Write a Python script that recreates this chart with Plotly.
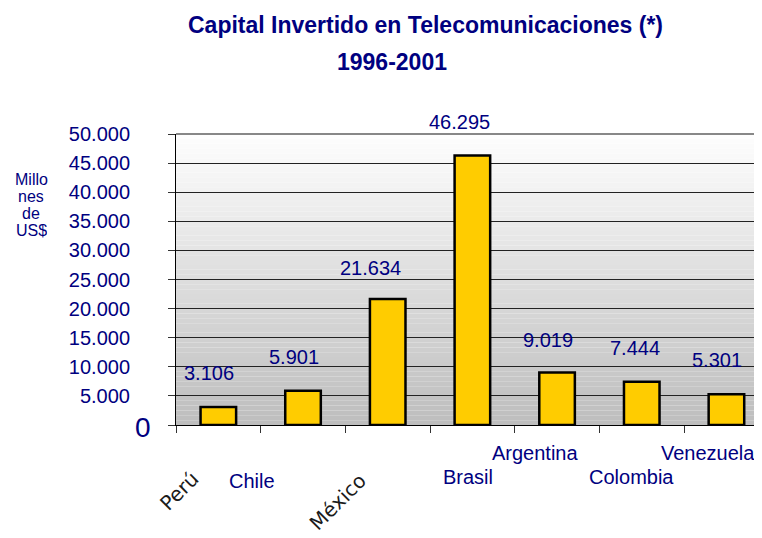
import plotly.graph_objects as go

# data
paises = ['Perú', 'Chile', 'México', 'Brasil', 'Argentina', 'Colombia', 'Venezuela']
capital = [3106, 5901, 21634, 46295, 9019, 7444, 5301]
y_ticks = [0, 5000, 10000, 15000, 20000, 25000, 30000, 35000, 40000, 45000, 50000]

NAVY = '#000080'
FONT = 'Liberation Sans, Arial, sans-serif'

# the page body has an 8px margin, so the figure is a bit smaller than the window
OFF = 8
W, H = 762 - OFF, 538 - OFF
ML, MT, MB, MR = 176 - OFF, 134 - OFF, 538 - 425, 0
PW, PH = W - ML - MR, H - MT - MB


def px(x, y):
    # window pixel -> paper coords
    return (x - OFF - ML) / PW, (H - MB - (y - OFF)) / PH


def miles(v):
    # spanish style thousands separator
    return f"{v:,}".replace(',', '.')


fig = go.Figure()
fig.add_trace(go.Bar(
    x=paises,
    y=capital,
    width=0.42,
    marker=dict(color='#FFCC00', line=dict(color='black', width=2.5)),
    hoverinfo='x+y',
))

# gradient plot background, gray at the bottom to white at top
n_strips = 60
for i in range(n_strips):
    t = i / (n_strips - 1)
    c = int(190 + (254 - 190) * t)
    fig.add_shape(type='rect', xref='x domain', yref='y domain',
                  x0=0, x1=1, y0=i / n_strips, y1=(i + 1) / n_strips,
                  fillcolor=f'rgb({c},{c},{c})', line=dict(width=0), layer='below')

# top border of the plot
fig.add_shape(type='line', xref='x domain', yref='y domain', x0=0, x1=1, y0=1, y1=1,
              line=dict(color='#888888', width=2))

annotations = []

# value labels above each bar
label_dx = [-9, -9, -17, -13, -9, -7, -9]
label_dy = [34, 34, 31, 34, 33, 34, 34]
for p, v, dx, dy in zip(paises, capital, label_dx, label_dy):
    annotations.append(dict(x=p, y=v, xref='x', yref='y', text=miles(v), showarrow=False,
                            xanchor='center', yanchor='middle',
                            xshift=dx, yshift=dy, font=dict(size=20, color=NAVY, family=FONT)))

# category labels, scattered under the axis like in the original
cat_dx = [-39, -51, -50, -4, -22, -10, -18]
cat_dy = [-66, -56, -77, -52, -28, -52, -28]
for i, p in enumerate(paises):
    if p in ('Perú', 'México'):
        annotations.append(dict(x=p, y=0, xref='x', yref='y', text=p, showarrow=False,
                                xanchor='center', yanchor='middle',
                                xshift=cat_dx[i], yshift=cat_dy[i], textangle=-45,
                                font=dict(size=20, color='#1a1a1a', family='DejaVu Sans')))
    else:
        annotations.append(dict(x=p, y=0, xref='x', yref='y', text=p, showarrow=False,
                                xanchor='center', yanchor='middle',
                                xshift=cat_dx[i], yshift=cat_dy[i],
                                font=dict(size=20, color=NAVY, family=FONT)))

# big zero at the origin
annotations.append(dict(x=0, y=0, xref='paper', yref='y', text='0', showarrow=False,
                        xanchor='right', yanchor='middle', xshift=-23, yshift=-2,
                        font=dict(size=28, color=NAVY, family=FONT)))

# y axis title, one line each (tight line spacing in the original)
for txt, yy in zip(['Millo', 'nes', 'de', 'US$'], [179, 196, 213, 230]):
    ax, ay = px(31, yy)
    annotations.append(dict(x=ax, y=ay, xref='paper', yref='paper', text=txt, showarrow=False,
                            xanchor='center', yanchor='middle', height=16, borderpad=0,
                            font=dict(size=16, color=NAVY, family=FONT)))

# titles
tx, ty = px(425, 25)
annotations.append(dict(x=tx, y=ty, xref='paper', yref='paper',
                        text='<b>Capital Invertido en Telecomunicaciones (*)</b>',
                        xanchor='center', yanchor='middle',
                        showarrow=False, font=dict(size=23, color=NAVY, family=FONT)))
tx, ty = px(392, 62)
annotations.append(dict(x=tx, y=ty, xref='paper', yref='paper', text='<b>1996-2001</b>',
                        xanchor='center', yanchor='middle',
                        showarrow=False, font=dict(size=23, color=NAVY, family=FONT)))

fig.update_layout(
    width=W,
    height=H,
    margin=dict(l=ML, r=MR, t=MT, b=MB),
    paper_bgcolor='white',
    plot_bgcolor='rgba(0,0,0,0)',
    showlegend=False,
    font=dict(family=FONT, color=NAVY),
    annotations=annotations,
    xaxis=dict(
        range=[-0.5, 6.42],
        showticklabels=False,
        ticks='outside',
        tickson='boundaries',
        ticklen=7,
        tickcolor='#333333',
        showline=True,
        linecolor='black',
        linewidth=1,
        showgrid=False,
        fixedrange=True,
    ),
    yaxis=dict(
        range=[0, 50000],
        tickvals=y_ticks,
        ticktext=[''] + [miles(t) for t in y_ticks[1:]],
        ticks='outside',
        ticklen=7,
        tickcolor='#333333',
        ticklabelstandoff=34,
        tickfont=dict(size=20, color=NAVY, family=FONT),
        showline=True,
        linecolor='black',
        linewidth=1,
        showgrid=True,
        gridcolor='#222222',
        gridwidth=1,
        zeroline=False,
        fixedrange=True,
    ),
)

fig.write_html('out.html')
